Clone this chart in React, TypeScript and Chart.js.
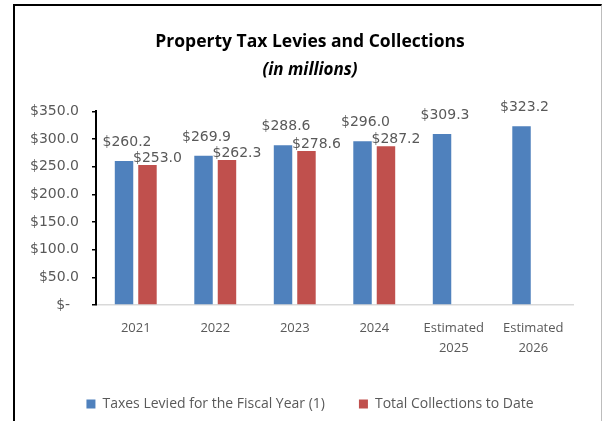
import React, { useEffect, useRef } from 'react';
import { Chart, registerables } from 'chart.js';

Chart.register(...registerables);

// ---- Data ----
const categories: (string | string[])[] = ['2021', '2022', '2023', '2024', ['Estimated', '2025'], ['Estimated', '2026']];
const taxesLevied: number[] = [260.2, 269.9, 288.6, 296.0, 309.3, 323.2];
const totalCollections: (number | null)[] = [253.0, 262.3, 278.6, 287.2, null, null];
const seriesNames: string[] = ['Taxes Levied for the Fiscal Year (1)', 'Total Collections to Date'];
const yMin = 0;
const yMax = 350;
const yStep = 50;
const titleText = 'Property Tax Levies and Collections';
const subtitleText = '(in millions)';

// ---- Styles ----
const COLORS = ['#4F81BD', '#C0504D'];
const TEXT_GRAY = '#595959';
const LABEL_OFFSETS = [
  { dx: 3, dy: 15 },
  { dx: 10, dy: 3 },
];
const Y_TICK_LEN = 4;
const Y_LABEL_PAD = 13;

const money = (v: number) => (v === 0 ? '$-  ' : '$' + v.toFixed(1));

// bar value labels, positioned from the bar elements
const barValueLabels = {
  id: 'barValueLabels',
  afterDatasetsDraw(chart: any) {
    const ctx = chart.ctx;
    ctx.save();
    ctx.font = '14px "DejaVu Sans"';
    ctx.fillStyle = TEXT_GRAY;
    ctx.textAlign = 'center';
    ctx.textBaseline = 'alphabetic';
    chart.data.datasets.forEach((ds: any, di: number) => {
      const meta = chart.getDatasetMeta(di);
      const off = LABEL_OFFSETS[di];
      meta.data.forEach((el: any, i: number) => {
        const v = ds.data[i];
        if (v === null || v === undefined) return;
        ctx.fillText(money(v), el.x + off.dx, el.y - off.dy);
      });
    });
    ctx.restore();
  },
};

// y tick labels drawn without the scale's clip box (they overhang the layout padding)
const yTickLabels = {
  id: 'yTickLabels',
  afterDraw(chart: any) {
    const scale = chart.scales.y;
    const ctx = chart.ctx;
    ctx.save();
    ctx.font = '14px "DejaVu Sans"';
    ctx.fillStyle = TEXT_GRAY;
    ctx.textAlign = 'right';
    ctx.textBaseline = 'middle';
    scale.ticks.forEach((t: any) => {
      ctx.fillText(money(t.value), scale.right - Y_TICK_LEN - Y_LABEL_PAD, scale.getPixelForValue(t.value));
    });
    ctx.restore();
  },
};

export default function App() {
  const ref = useRef<HTMLCanvasElement | null>(null);

  useEffect(() => {
    if (!ref.current) return;
    const chart = new Chart(ref.current, {
      type: 'bar',
      data: {
        labels: categories,
        datasets: [
          {
            label: seriesNames[0],
            data: taxesLevied,
            backgroundColor: COLORS[0],
            categoryPercentage: 0.59,
            barPercentage: 0.787,
          },
          {
            label: seriesNames[1],
            data: totalCollections,
            backgroundColor: COLORS[1],
            categoryPercentage: 0.59,
            barPercentage: 0.787,
          },
        ],
      },
      options: {
        responsive: false,
        animation: false,
        events: [],
        layout: { padding: { left: 47, right: 29, top: 0, bottom: 0 } },
        plugins: {
          title: {
            display: true,
            text: titleText,
            color: '#000',
            font: { family: '"Open Sans"', size: 17.5, weight: 'bold', lineHeight: 1.2 },
            padding: { top: 31.5, bottom: 7 },
          },
          subtitle: {
            display: true,
            text: subtitleText,
            color: '#000',
            font: { family: '"Open Sans"', size: 17, weight: 'bold', style: 'italic', lineHeight: 1.2 },
            padding: { top: 0, bottom: 31.5 },
          },
          legend: {
            display: true,
            position: 'bottom',
            labels: {
              boxWidth: 9,
              boxHeight: 9,
              padding: 34,
              color: TEXT_GRAY,
              font: { family: '"Open Sans"', size: 14 },
            },
          },
          tooltip: { enabled: false },
        },
        scales: {
          x: {
            grid: { display: false },
            border: { display: true, color: '#D9D9D9', width: 1.5 },
            ticks: {
              color: TEXT_GRAY,
              font: { family: '"Open Sans"', size: 13, lineHeight: 1.5 },
              padding: 6,
              maxRotation: 0,
              autoSkip: false,
            },
            afterFit: (scale: any) => {
              scale.height = 58;
            },
          },
          y: {
            min: yMin,
            max: yMax,
            grid: {
              display: true,
              drawOnChartArea: false,
              drawTicks: true,
              tickLength: Y_TICK_LEN,
              color: '#000',
              lineWidth: 1.5,
            },
            border: { display: true, color: '#000', width: 2 },
            ticks: {
              stepSize: yStep,
              display: false,
            },
            afterFit: (scale: any) => {
              scale.width = 49;
            },
          },
        },
      },
      plugins: [barValueLabels, yTickLabels],
    } as any);
    return () => chart.destroy();
  }, []);

  return (
    <div style={{ position: 'absolute', left: 0, top: 0, width: 602, height: 421, background: '#fff' }}>
      <canvas ref={ref} width={602} height={421} style={{ display: 'block', position: 'absolute', left: 0, top: 0 }} />
      <div
        style={{
          position: 'absolute',
          left: 13,
          top: 4,
          width: 589,
          height: 417,
          boxSizing: 'border-box',
          borderLeft: '2px solid #000',
          borderTop: '2px solid #000',
          borderRight: '1px solid #BDBDBD',
          pointerEvents: 'none',
        }}
      />
    </div>
  );
}
